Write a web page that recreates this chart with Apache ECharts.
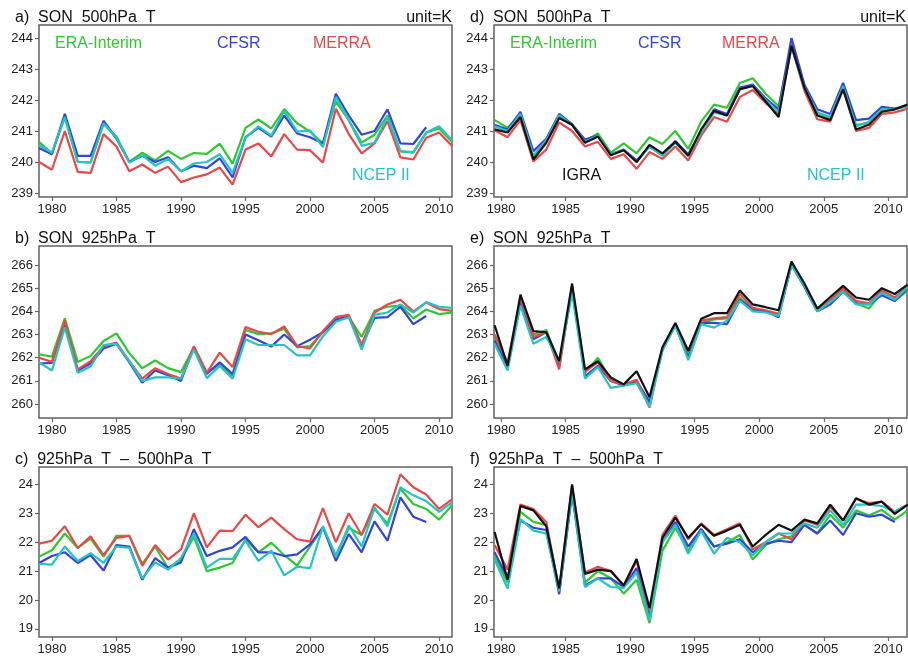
<!DOCTYPE html>
<html>
<head>
<meta charset="utf-8">
<script src="https://cdn.jsdelivr.net/npm/echarts@6/dist/echarts.min.js"></script>
<style>html,body{margin:0;padding:0;background:#fff;}#c{width:908px;height:656px;}</style>
</head>
<body>
<div id="c"></div>
<script>
const yearsLeft = [1979,1980,1981,1982,1983,1984,1985,1986,1987,1988,1989,1990,1991,1992,1993,1994,1995,1996,1997,1998,1999,2000,2001,2002,2003,2004,2005,2006,2007,2008,2009,2010,2011];
const yearsRight = [1979.5,1980.5,1981.5,1982.5,1983.5,1984.5,1985.5,1986.5,1987.5,1988.5,1989.5,1990.5,1991.5,1992.5,1993.5,1994.5,1995.5,1996.5,1997.5,1998.5,1999.5,2000.5,2001.5,2002.5,2003.5,2004.5,2005.5,2006.5,2007.5,2008.5,2009.5,2010.5,2011.5];
const xTicks = [1980,1985,1990,1995,2000,2005,2010];
const ticks500 = [239,240,241,242,243,244];
const ticks925 = [260,261,262,263,264,265,266];
const ticksDiff = [19,20,21,22,23,24];
const seriesNames = ['ERA-Interim','CFSR','MERRA','NCEP II','IGRA'];
const panelTitles = ['a)  SON  500hPa  T','b)  SON  925hPa  T','c)  925hPa  T  \u2013  500hPa  T','d)  SON  500hPa  T','e)  SON  925hPa  T','f)  925hPa  T  \u2013  500hPa  T'];
const unitText = 'unit=K';

// a) SON 500hPa T (reanalyses)
const a_era  = [240.65,240.28,241.44,240.0,239.98,241.23,240.82,240.0,240.3,240.05,240.36,240.1,240.29,240.26,240.59,239.95,241.1,241.37,241.08,241.71,241.25,240.98,240.6,241.95,241.35,240.63,240.88,241.5,240.34,240.3,240.95,241.08,240.65];
const a_cfsr = [240.45,240.25,241.55,240.2,240.2,241.33,240.75,240.0,240.2,240.0,240.15,239.7,239.88,239.8,240.12,239.5,240.8,241.1,240.82,241.5,240.92,240.8,240.6,242.2,241.5,240.88,241.0,241.7,240.6,240.58,241.12];
const a_merra= [240.0,239.75,241.0,239.68,239.65,240.9,240.5,239.7,239.92,239.65,239.85,239.35,239.5,239.6,239.82,239.27,240.4,240.6,240.18,240.9,240.4,240.38,239.98,241.72,240.9,240.28,240.6,241.32,240.15,240.08,240.78,240.95,240.52];
const a_ncep = [240.55,240.3,241.45,240.0,240.0,241.25,240.78,239.98,240.22,239.88,240.1,239.7,239.95,240.0,240.25,239.65,240.78,241.15,240.85,241.65,240.98,241.02,240.48,242.1,241.35,240.52,240.62,241.45,240.35,240.32,240.95,241.15,240.7];

// b) SON 925hPa T
const b_era  = [262.15,262.05,263.7,261.82,262.08,262.72,263.05,262.2,261.55,261.88,261.55,261.38,262.45,261.35,261.72,261.2,263.2,263.02,263.05,263.25,262.45,262.5,263.1,263.6,263.75,262.9,264.02,264.2,264.25,263.7,264.08,263.88,263.95];
const b_cfsr = [261.75,261.78,263.5,261.45,261.75,262.4,262.6,261.8,260.92,261.45,261.25,261.0,262.45,261.3,261.8,261.3,263.0,262.75,262.48,263.0,262.5,262.78,263.1,263.65,263.8,262.5,263.72,263.75,264.2,263.45,263.8];
const b_merra= [262.0,261.82,263.6,261.5,261.85,262.5,262.65,261.85,261.1,261.55,261.3,261.1,262.5,261.35,262.22,261.6,263.32,263.12,263.02,263.35,262.5,262.4,263.15,263.75,263.85,262.55,263.95,264.3,264.5,264.0,264.38,264.1,264.02];
const b_ncep = [261.8,261.45,263.3,261.35,261.62,262.55,262.6,261.85,261.0,261.15,261.15,261.1,262.35,261.12,261.65,261.1,262.8,262.55,262.55,262.55,262.1,262.1,262.92,263.55,263.75,262.35,263.85,263.95,264.3,263.95,264.4,264.2,264.15];

// c) 925hPa T - 500hPa T
const c_era  = [21.5,21.72,22.3,21.8,22.12,21.5,22.22,22.22,21.25,21.85,21.1,21.4,22.18,21.0,21.12,21.28,22.1,21.65,21.98,21.55,21.2,21.85,22.5,21.55,22.5,22.25,23.15,22.65,23.85,23.32,23.15,22.78,23.28];
const c_cfsr = [21.28,21.52,21.65,21.28,21.55,21.02,21.9,21.85,20.7,21.45,21.12,21.3,22.45,21.52,21.7,21.82,22.18,21.65,21.65,21.52,21.58,21.92,22.52,21.35,22.28,21.65,22.72,22.05,23.55,22.88,22.7];
const c_merra= [21.95,22.05,22.55,21.8,22.2,21.55,22.15,22.22,21.18,21.9,21.4,21.75,23.0,21.82,22.4,22.38,22.95,22.52,22.85,22.45,22.1,22.02,23.18,22.0,23.0,22.25,23.32,22.95,24.35,23.9,23.65,23.15,23.48];
const c_ncep = [21.25,21.22,21.85,21.35,21.62,21.28,21.85,21.8,20.75,21.3,21.05,21.45,22.3,21.12,21.42,21.42,22.05,21.35,21.7,20.85,21.15,21.1,22.55,21.5,22.58,21.85,23.2,22.55,23.9,23.62,23.42,23.05,23.38];

// d) SON 500hPa T (with IGRA)
const d_era  = [241.35,241.1,241.55,240.15,240.65,241.45,241.2,240.68,240.92,240.3,240.6,240.28,240.8,240.58,241.0,240.42,241.3,241.85,241.75,242.55,242.7,242.2,241.8,243.8,242.45,241.6,241.4,242.4,241.2,241.25,241.65,241.7,241.85];
const d_cfsr = [241.2,241.05,241.62,240.35,240.75,241.55,241.22,240.72,240.85,240.25,240.4,240.05,240.5,240.22,240.68,240.25,241.0,241.7,241.55,242.4,242.5,242.05,241.7,244.0,242.5,241.7,241.55,242.55,241.35,241.4,241.78,241.72,241.8];
const d_merra= [241.02,240.8,241.35,240.02,240.4,241.28,241.0,240.5,240.65,240.1,240.25,239.78,240.32,240.1,240.5,240.05,240.85,241.45,241.3,242.1,242.32,241.9,241.55,243.75,242.3,241.38,241.3,242.35,241.0,241.1,241.55,241.6,241.72];
const d_ncep = [241.15,241.0,241.55,240.2,240.7,241.5,241.2,240.65,240.85,240.25,240.38,240.0,240.5,240.2,240.62,240.2,240.95,241.6,241.5,242.35,242.45,242.0,241.6,243.7,242.4,241.6,241.45,242.45,241.15,241.3,241.7,241.7,241.8];
const d_igra = [241.05,240.95,241.45,240.08,240.62,241.42,241.2,240.62,240.82,240.22,240.38,240.0,240.55,240.28,240.65,240.2,241.05,241.65,241.5,242.35,242.45,241.95,241.45,243.75,242.4,241.5,241.35,242.35,241.05,241.2,241.62,241.7,241.85];

// e) SON 925hPa T (with IGRA)
const e_era  = [262.95,261.65,264.5,263.0,263.2,261.7,265.05,261.35,262.0,261.05,260.85,260.95,260.0,262.4,263.45,262.1,263.5,263.65,263.7,264.6,264.05,264.0,263.85,266.05,265.1,264.05,264.5,264.9,264.35,264.12,264.8,264.45,264.9];
const e_cfsr = [262.75,261.55,264.4,262.8,263.1,261.7,265.0,261.2,261.65,261.0,260.8,261.0,260.1,262.35,263.4,262.0,263.5,263.5,263.45,264.5,264.1,264.0,263.75,266.0,265.05,264.0,264.3,264.85,264.35,264.3,264.7,264.45,265.0];
const e_merra= [263.0,261.8,264.6,262.9,263.1,261.5,265.1,261.4,261.8,261.0,260.85,261.05,259.85,262.4,263.45,262.25,263.6,263.7,263.75,264.75,264.15,264.05,263.9,266.1,265.15,264.1,264.5,265.0,264.45,264.35,264.9,264.6,265.05];
const e_ncep = [262.6,261.45,264.25,262.6,262.9,261.8,264.8,261.1,261.6,260.7,260.8,260.9,259.9,262.3,263.4,261.9,263.45,263.3,263.6,264.45,264.0,263.95,263.8,266.0,265.1,264.0,264.4,264.85,264.3,264.3,264.8,264.5,265.05];
const e_igra = [263.4,261.65,264.72,263.15,263.1,261.85,265.2,261.5,261.85,261.15,260.85,261.42,260.3,262.45,263.5,262.3,263.68,263.92,263.92,264.9,264.3,264.18,264.05,266.15,265.2,264.12,264.62,265.1,264.6,264.5,265.0,264.75,265.15];

// f) 925hPa T - 500hPa T (with IGRA)
const f_era  = [21.5,20.6,23.05,22.7,22.6,20.3,23.7,20.6,21.0,20.75,20.22,20.7,19.2,21.7,22.5,21.7,22.45,21.85,22.0,22.25,21.4,21.9,22.1,22.2,22.6,22.3,22.95,22.5,23.1,22.92,23.12,22.78,23.1];
const f_cfsr = [21.65,20.75,22.75,22.5,22.42,20.2,23.7,20.5,20.75,20.75,20.45,21.1,19.45,22.0,22.7,21.85,22.45,21.85,21.95,22.1,21.65,21.95,22.05,22.0,22.6,22.3,22.75,22.25,23.0,22.88,22.95,22.7];
const f_merra= [21.9,21.05,23.3,23.15,22.7,20.35,23.95,20.95,21.15,21.0,20.5,21.35,19.6,22.25,22.92,22.1,22.65,22.25,22.45,22.65,21.75,22.0,22.3,22.1,22.75,22.6,23.22,22.75,23.5,23.35,23.4,23.05,23.3];
const f_ncep = [21.4,20.4,22.8,22.4,22.3,20.3,23.75,20.45,20.75,20.45,20.42,20.95,19.3,22.0,22.6,21.6,22.4,21.6,22.15,22.0,21.55,22.0,22.3,22.3,22.65,22.5,23.1,22.6,23.3,23.3,23.25,23.05,23.3];
const f_igra = [22.35,20.7,23.25,23.1,22.55,20.4,24.0,20.9,21.05,21.0,20.5,21.42,19.72,22.15,22.85,22.15,22.62,22.22,22.4,22.6,21.85,22.25,22.6,22.4,22.78,22.65,23.3,22.75,23.52,23.3,23.4,22.98,23.3];

const colors = ['#30c830','#3344dd','#e84848','#25c4c4','#111111'];
const FONT = '"Liberation Sans", Arial, sans-serif';

const panels = [
  {sets:[a_era,a_cfsr,a_merra,a_ncep], x:yearsLeft, xmin:1979, xmax:2011, ymin:238.87, ymax:244.42, yt:ticks500, col:0, row:0},
  {sets:[b_era,b_cfsr,b_merra,b_ncep], x:yearsLeft, xmin:1979, xmax:2011, ymin:259.4, ymax:266.82, yt:ticks925, col:0, row:1},
  {sets:[c_era,c_cfsr,c_merra,c_ncep], x:yearsLeft, xmin:1979, xmax:2011, ymin:18.72, ymax:24.6, yt:ticksDiff, col:0, row:2},
  {sets:[d_era,d_cfsr,d_merra,d_ncep,d_igra], x:yearsRight, xmin:1979.45, xmax:2011.45, ymin:238.87, ymax:244.42, yt:ticks500, col:1, row:0},
  {sets:[e_era,e_cfsr,e_merra,e_ncep,e_igra], x:yearsRight, xmin:1979.45, xmax:2011.45, ymin:259.4, ymax:266.82, yt:ticks925, col:1, row:1},
  {sets:[f_era,f_cfsr,f_merra,f_ncep,f_igra], x:yearsRight, xmin:1979.45, xmax:2011.45, ymin:18.72, ymax:24.6, yt:ticksDiff, col:1, row:2}
];

const gridLeft = [39, 494];
const gridTop = [25, 246, 467];
const gridW = 413, gridH = 172;

const grid = [], xAxis = [], yAxis = [], series = [], title = [];
const tickStyle = {show:true, inside:false, length:4, lineStyle:{color:'#666', width:1.2}};
const fmt = v => String(v);
panels.forEach((p, i) => {
  grid.push({left:gridLeft[p.col], top:gridTop[p.row], width:gridW, height:gridH, show:true, borderColor:'#626262', borderWidth:1.5, backgroundColor:'transparent'});
  xAxis.push({type:'value', gridIndex:i, min:p.xmin, max:p.xmax, splitLine:{show:false}, axisLine:{show:false},
    axisTick:Object.assign({customValues:xTicks}, tickStyle),
    axisLabel:{customValues:xTicks, formatter:fmt, color:'#222', fontSize:13, fontFamily:FONT, margin:6}});
  yAxis.push({type:'value', gridIndex:i, min:p.ymin, max:p.ymax, splitLine:{show:false}, axisLine:{show:false},
    axisTick:Object.assign({customValues:p.yt}, tickStyle),
    axisLabel:{customValues:p.yt, formatter:fmt, color:'#222', fontSize:13, fontFamily:FONT, margin:6}});
  p.sets.forEach((vals, k) => {
    series.push({type:'line', name:seriesNames[k], xAxisIndex:i, yAxisIndex:i, showSymbol:false, silent:true, animation:false,
      lineStyle:{color:colors[k], width:2.2}, data: vals.map((v, j) => [p.x[j], v])});
  });
  title.push({text:panelTitles[i], left:[15,470][p.col], top:gridTop[p.row]-15, padding:0, textStyle:{fontSize:16, fontWeight:'normal', color:'#111', fontFamily:FONT}});
});
title.push({text:unitText, right:908-452, top:10, padding:0, textStyle:{fontSize:16, fontWeight:'normal', color:'#111', fontFamily:FONT}});
title.push({text:unitText, right:2, top:10, padding:0, textStyle:{fontSize:16, fontWeight:'normal', color:'#111', fontFamily:FONT}});

function lbl(text, x, y, color){
  return {type:'text', left:x, top:y, style:{text:text, fill:color, fontSize:16, fontFamily:FONT}, z:100};
}
const graphic = [
  lbl(seriesNames[0], 55, 36, colors[0]), lbl(seriesNames[1], 217, 36, colors[1]), lbl(seriesNames[2], 313, 36, colors[2]), lbl(seriesNames[3], 352, 168, colors[3]),
  lbl(seriesNames[0], 510, 36, colors[0]), lbl(seriesNames[1], 638, 36, colors[1]), lbl(seriesNames[2], 722, 36, colors[2]), lbl(seriesNames[4], 562, 168, colors[4]), lbl(seriesNames[3], 807, 168, colors[3])
];

const chart = echarts.init(document.getElementById('c'), null, {renderer:'canvas'});
chart.setOption({animation:false, backgroundColor:'#fff', grid, xAxis, yAxis, series, title, graphic});
</script>
</body>
</html>
